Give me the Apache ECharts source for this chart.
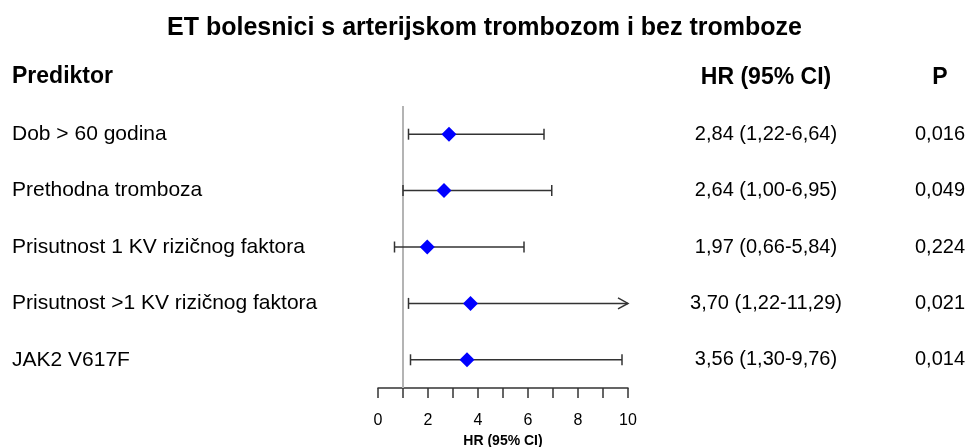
<!DOCTYPE html>
<html>
<head>
<meta charset="utf-8">
<script src="https://cdn.jsdelivr.net/npm/echarts@6/dist/echarts.min.js"></script>
<style>
  html, body { margin: 0; padding: 0; background: #fff; }
  #chart { width: 969px; height: 447px; }
</style>
</head>
<body>
<div id="chart"></div>
<script>
// Predictors of arterial thrombosis in ET patients (hazard ratios)
const predictors = [
  'Dob > 60 godina',
  'Prethodna tromboza',
  'Prisutnost 1 KV rizičnog faktora',
  'Prisutnost >1 KV rizičnog faktora',
  'JAK2 V617F'
];
const hr = [2.84, 2.64, 1.97, 3.70, 3.56];
const lower = [1.22, 1.00, 0.66, 1.22, 1.30];
const upper = [6.64, 6.95, 5.84, 11.29, 9.76];
const pValues = [0.016, 0.049, 0.224, 0.021, 0.014];
const axisTicks = [0, 2, 4, 6, 8, 10];

const FONT = '"Liberation Sans", Arial, sans-serif';
const AXIS_MAX = 10;

const fmt = (v, d) => v.toFixed(d).replace('.', ',');
const hrText = hr.map((v, i) => fmt(v, 2) + ' (' + fmt(lower[i], 2) + '-' + fmt(upper[i], 2) + ')');
const pText = pValues.map(v => fmt(v, 3));

const chart = echarts.init(document.getElementById('chart'));

function renderInterval(params, api) {
  const row = api.value(0);
  const lo = api.value(1);
  const hi = api.value(2);
  const clipped = hi > AXIS_MAX;
  const pLo = api.coord([lo, row]);
  const pHi = api.coord([Math.min(hi, AXIS_MAX), row]);
  const y = pLo[1];
  const cap = 5.5;
  const style = { stroke: '#333333', lineWidth: 1.5, fill: null };
  const children = [
    { type: 'line', shape: { x1: pLo[0], y1: y, x2: pHi[0], y2: y }, style },
    { type: 'line', shape: { x1: pLo[0], y1: y - cap, x2: pLo[0], y2: y + cap }, style }
  ];
  if (clipped) {
    children.push({ type: 'polyline', shape: { points: [[pHi[0] - 10, y - 5.5], [pHi[0], y], [pHi[0] - 10, y + 5.5]] }, style });
  } else {
    children.push({ type: 'line', shape: { x1: pHi[0], y1: y - cap, x2: pHi[0], y2: y + cap }, style });
  }
  return { type: 'group', children };
}

const yBase = {
  type: 'category',
  inverse: true,
  axisLine: { show: false },
  axisTick: { show: false },
  splitLine: { show: false }
};

chart.setOption({
  animation: false,
  backgroundColor: '#ffffff',
  textStyle: { fontFamily: FONT },
  title: {
    text: 'ET bolesnici s arterijskom trombozom i bez tromboze',
    left: 'center',
    top: 11,
    textStyle: { fontFamily: FONT, fontSize: 25, fontWeight: 'bold', color: '#000' }
  },
  graphic: [
    { type: 'text', left: 12, top: 65, style: { text: 'Prediktor', font: 'bold 23px ' + FONT, fill: '#000' } },
    { type: 'text', x: 766, y: 78, style: { text: 'HR (95% CI)', font: 'bold 23px ' + FONT, fill: '#000', align: 'center', verticalAlign: 'middle' } },
    { type: 'text', x: 940, y: 78, style: { text: 'P', font: 'bold 23px ' + FONT, fill: '#000', align: 'center', verticalAlign: 'middle' } }
  ],
  grid: { left: 378, right: 341, top: 106, bottom: 59, outerBoundsMode: 'none' },
  xAxis: {
    type: 'value',
    min: axisTicks[0],
    max: axisTicks[axisTicks.length - 1],
    interval: axisTicks[1] - axisTicks[0],
    name: 'HR (95% CI)',
    nameLocation: 'middle',
    nameGap: 45,
    nameTextStyle: { fontFamily: FONT, fontSize: 14, fontWeight: 'bold', color: '#000' },
    axisLine: { show: true, lineStyle: { color: '#333', width: 1.5 } },
    axisTick: { show: true, length: 10, lineStyle: { color: '#333', width: 1.5 } },
    minorTick: { show: true, splitNumber: 2, length: 10, lineStyle: { color: '#333', width: 1.5 } },
    axisLabel: { fontFamily: FONT, fontSize: 16, color: '#000', margin: 25 },
    splitLine: { show: false },
    minorSplitLine: { show: false }
  },
  yAxis: [
    Object.assign({}, yBase, {
      position: 'left',
      data: predictors,
      axisLabel: { align: 'left', margin: 366, fontFamily: FONT, fontSize: 21, color: '#000' }
    }),
    Object.assign({}, yBase, {
      position: 'right',
      data: hrText,
      axisLabel: { align: 'center', margin: 138, fontFamily: FONT, fontSize: 20, color: '#000' }
    }),
    Object.assign({}, yBase, {
      position: 'right',
      offset: 0,
      data: pText,
      axisLabel: { align: 'center', margin: 312, fontFamily: FONT, fontSize: 20, color: '#000' }
    })
  ],
  series: [
    {
      type: 'custom',
      yAxisIndex: 0,
      renderItem: renderInterval,
      data: predictors.map((p, i) => [i, lower[i], upper[i]]),
      encode: { x: [1, 2], y: 0 },
      clip: false,
      silent: true,
      z: 3,
      markLine: {
        silent: true,
        symbol: ['none', 'none'],
        label: { show: false },
        lineStyle: { color: '#b4b4b4', width: 2, type: 'solid' },
        data: [{ xAxis: 1 }],
        z: 1
      }
    },
    {
      type: 'scatter',
      yAxisIndex: 0,
      symbol: 'diamond',
      symbolSize: 15,
      itemStyle: { color: '#0000ff', opacity: 1 },
      data: hr.map((v, i) => [v, i]),
      silent: true,
      z: 5
    }
  ]
});
</script>
</body>
</html>
